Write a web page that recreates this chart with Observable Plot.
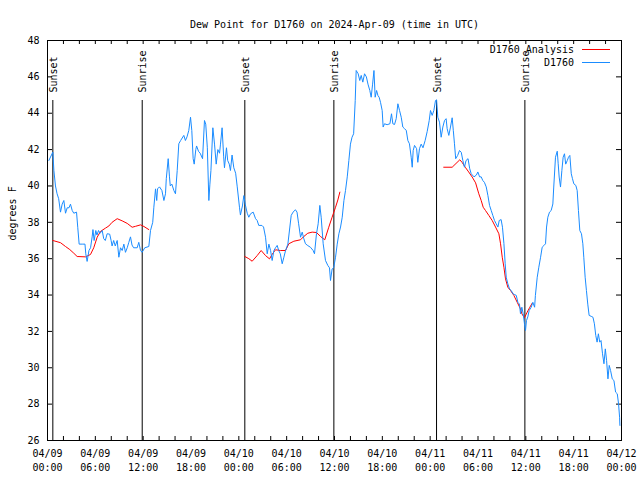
<!DOCTYPE html>
<html><head><meta charset="utf-8">
<script src="https://cdn.jsdelivr.net/npm/d3@7"></script>
<script src="https://cdn.jsdelivr.net/npm/@observablehq/plot@0.6"></script>
<style>
body{margin:0;background:#fff;}
#wrap{position:relative;width:640px;height:480px;font-family:"DejaVu Sans Mono",monospace;font-size:10px;}
.leg{position:absolute;right:66px;height:12px;line-height:12px;white-space:pre;color:#000;}
.sw{position:absolute;left:582px;width:28px;height:0;border-top:1px solid;}
</style></head><body><div id="wrap"></div>
<script>
const title = "Dew Point for D1760 on 2024-Apr-09 (time in UTC)";
const yLabel = "degrees F";
const startUTC = Date.UTC(2024, 3, 9);
const endUTC = Date.UTC(2024, 3, 12);

const xLabelHours = [0, 6, 12, 18, 24, 30, 36, 42, 48, 54, 60, 66, 72];
const xLabels = ["04/09\n00:00","04/09\n06:00","04/09\n12:00","04/09\n18:00",
  "04/10\n00:00","04/10\n06:00","04/10\n12:00","04/10\n18:00",
  "04/11\n00:00","04/11\n06:00","04/11\n12:00","04/11\n18:00","04/12\n00:00"];
const xTickHours = [0,2,4,6,8,10,12,14,16,18,20,22,24,26,28,30,32,34,36,38,40,42,44,46,48,50,52,54,56,58,60,62,64,66,68,70,72];
const yTicks = [26, 28, 30, 32, 34, 36, 38, 40, 42, 44, 46, 48];

const eventNames = ["Sunset", "Sunrise", "Sunset", "Sunrise", "Sunset", "Sunrise"];
const eventHours = [0.67, 11.88, 24.75, 35.92, 48.8, 59.88];

const seriesNames = ["D1760 Analysis", "D1760"];
const seriesColors = ["#ff0000", "#1a8cff"];

// D1760 observations: hours since 04/09 00:00 UTC, dew point °F
const obsHours = [0.17,0.67,0.8,1.0,1.2,1.4,1.63,1.84,2.05,2.26,2.47,2.7,2.88,3.1,3.3,3.64,3.8,3.97,4.35,4.7,4.8,4.97,5.2,5.4,5.6,5.7,5.85,6.06,6.2,6.4,6.6,6.86,7.05,7.25,7.48,7.8,7.98,8.1,8.3,8.5,8.74,8.95,9.16,9.37,9.58,9.78,10.0,10.2,10.41,10.6,10.8,11.25,11.45,11.67,11.87,12.2,12.71,12.92,13.2,13.34,13.55,13.7,13.8,14.05,14.35,14.6,14.8,14.9,15.14,15.3,15.4,15.6,15.85,16.05,16.27,16.47,16.7,17.1,17.3,17.5,17.72,17.94,18.1,18.27,18.4,18.6,18.7,18.95,19.15,19.45,19.69,19.85,20.05,20.24,20.37,20.5,20.74,20.95,21.16,21.37,21.58,21.7,21.9,22.1,22.2,22.45,22.6,22.8,22.95,23.15,23.37,23.6,23.8,24.08,24.2,24.45,24.63,24.8,25.05,25.25,25.47,25.8,26.1,26.3,26.5,26.9,27.1,27.35,27.56,27.77,27.98,28.18,28.4,28.6,28.81,29.0,29.2,29.44,29.65,29.86,30.15,30.4,30.57,30.8,31.1,31.3,31.5,31.74,31.95,32.15,32.36,32.65,32.98,33.32,33.49,33.74,33.95,34.16,34.33,34.58,34.87,35.16,35.37,35.5,35.7,35.9,36.13,36.34,36.55,36.76,36.97,37.18,37.38,37.6,37.8,38.0,38.2,38.4,38.6,38.72,38.97,39.17,39.35,39.55,39.77,40.0,40.2,40.43,40.6,40.78,40.95,41.1,41.28,41.45,41.6,41.77,41.98,42.1,42.27,42.6,42.95,43.15,43.32,43.53,43.74,43.95,44.16,44.37,44.57,44.78,45.0,45.2,45.4,45.62,45.75,45.87,46.04,46.3,46.45,46.66,46.87,47.1,47.37,47.63,47.88,48.04,48.25,48.46,48.67,48.8,48.96,49.17,49.38,49.59,49.8,50.0,50.13,50.34,50.55,50.76,50.9,51.05,51.2,51.45,51.68,51.9,52.1,52.3,52.5,52.75,52.96,53.15,53.5,53.8,53.98,54.2,54.4,54.6,54.8,55.03,55.24,55.45,55.66,55.86,56.07,56.28,56.5,56.66,56.9,57.07,57.25,57.41,57.54,57.74,57.96,58.17,58.38,58.58,58.8,59.0,59.2,59.33,59.5,59.67,59.83,59.96,60.08,60.25,60.42,60.67,60.88,61.1,61.2,61.43,61.63,61.85,62.05,62.26,62.47,62.6,62.76,62.97,63.18,63.39,63.5,63.72,63.94,64.06,64.18,64.35,64.52,64.68,64.85,65.0,65.2,65.35,65.52,65.7,65.85,66.02,66.27,66.44,66.6,66.77,66.98,67.15,67.27,67.44,67.6,67.77,67.94,68.2,68.42,68.6,68.77,68.94,69.1,69.27,69.43,69.62,69.8,69.97,70.13,70.3,70.46,70.63,70.84,71.05,71.26,71.47,71.63,71.76,71.8];
const obsValues = [41.4,41.86,40.85,40.0,39.57,39.3,38.56,39.0,39.2,38.5,38.8,38.8,39.0,38.65,38.5,38.56,37.7,36.8,36.8,36.8,36.27,35.85,36.45,36.6,37.2,37.6,37.0,37.55,37.3,37.55,37.4,37.55,37.1,37.0,37.37,37.35,37.0,36.7,37.0,36.7,37.0,36.08,36.6,36.45,36.8,36.35,36.6,36.9,37.2,36.75,36.6,36.6,36.9,36.45,36.35,36.6,36.67,37.55,38.0,38.83,39.84,39.2,39.84,39.95,39.75,39.2,39.57,40.4,41.5,40.5,40.0,40.1,39.75,39.57,40.85,42.32,42.5,42.78,42.5,42.7,43.05,43.78,43.05,41.5,41.2,42.0,42.2,41.9,41.8,41.5,43.6,43.4,42.1,39.2,40.1,40.85,43.2,42.3,41.2,42.0,41.8,42.3,43.2,41.6,41.0,42.1,41.4,41.2,40.85,41.7,41.0,40.7,39.95,38.83,38.4,38.9,39.47,39.0,38.5,38.28,38.47,38.56,38.2,38.1,37.83,37.83,37.74,37.18,36.27,36.8,36.45,35.9,36.45,36.6,36.73,36.45,36.27,35.72,36.08,36.45,36.8,37.74,38.38,38.56,38.69,38.56,37.92,37.18,37.46,37.1,36.82,36.72,36.63,36.45,36.27,37.37,37.92,38.93,38.28,36.82,35.9,35.63,35.5,34.8,35.43,35.5,36.08,36.8,37.37,37.74,38.28,39.2,39.75,40.5,41.4,42.3,42.68,42.87,44.7,46.35,46.17,45.8,46.08,45.71,46.17,46.0,45.6,45.25,44.88,45.6,46.35,44.88,45.25,44.97,44.88,44.6,44.15,43.24,43.42,43.37,43.42,43.97,43.42,43.38,43.7,44.52,44.15,43.78,43.24,43.15,43.06,42.5,42.32,41.58,41.03,41.95,42.23,42.05,41.3,42.05,42.3,42.1,42.5,43.0,43.6,44.15,43.88,44.15,44.7,44.74,43.78,43.51,42.68,43.24,43.6,43.7,43.15,42.78,43.24,43.75,43.06,42.32,41.5,41.68,41.95,41.85,41.4,41.03,41.4,41.5,40.95,40.67,40.5,40.6,40.77,40.5,40.5,40.3,40.2,39.95,39.48,38.93,38.65,38.38,38.1,37.92,37.74,38.1,38.15,37.73,36.83,35.72,34.98,34.62,34.33,34.25,34.07,34.03,33.98,33.6,33.5,32.97,33.33,32.97,32.42,32.05,32.6,32.8,33.15,33.33,33.6,33.33,33.98,34.98,35.53,36.08,36.63,36.72,36.82,37.74,38.28,38.56,38.65,39.01,39.94,41.58,41.91,41.22,40.49,39.94,40.85,41.58,41.77,41.2,41.4,41.58,41.68,40.67,40.4,40.12,40.03,39.75,38.65,37.55,37.37,36.82,36.08,34.98,34.25,33.5,32.88,32.83,32.78,32.42,31.78,31.41,31.87,31.41,31.5,30.77,30.22,31.04,30.4,29.39,30.13,29.85,29.39,29.3,28.66,28.57,28.02,27.28,26.83];

// D1760 Analysis: three nightly segments (null = gap)
const anaHours = [0.67,1.63,2.26,2.8,3.3,3.72,4.77,5.39,5.8,6.23,6.65,7.27,7.7,8.1,8.74,9.37,10.0,10.62,11.04,11.67,12.1,12.71,
  18.0,
  24.75,25.25,25.67,26.3,26.8,27.35,27.85,28.18,28.6,29.2,29.86,30.27,30.9,31.74,32.15,32.65,33.2,33.74,34.25,34.78,35.28,35.7,36.13,36.42,36.67,
  43.0,
  49.7,50.76,51.72,52.0,52.4,52.83,53.27,53.7,54.1,54.4,54.65,54.94,55.36,55.78,56.2,56.62,56.83,57.04,57.25,57.45,57.74,58.08,58.5,58.92,59.33,59.5,59.83,60.17,60.5,60.8];
const anaValues = [37.0,36.88,36.67,36.5,36.3,36.12,36.1,36.23,36.6,37.18,37.5,37.68,37.8,38.0,38.2,38.08,37.94,37.73,37.78,37.86,37.77,37.6,
  null,
  36.12,36.0,35.86,36.17,36.45,36.17,35.99,36.24,36.49,36.45,36.45,36.82,36.96,37.04,37.22,37.4,37.46,37.44,37.22,37.04,37.73,38.28,38.83,39.23,39.66,
  null,
  41.03,41.03,41.44,41.3,41.03,40.77,40.49,40.17,39.57,39.2,38.83,38.65,38.38,38.1,37.74,37.37,36.82,36.08,35.53,34.89,34.43,34.25,33.98,33.6,33.24,32.97,32.75,33.06,33.33,33.55];

const toDate = h => new Date(startUTC + h * 3600000);
const obs = obsHours.map((h, i) => ({t: toDate(h), v: obsValues[i]}));
const ana = anaHours.map((h, i) => ({t: toDate(h), v: anaValues[i] == null ? NaN : anaValues[i]}));
const events = eventHours.map((h, i) => ({t: toDate(h), name: eventNames[i]}));
const labelMap = new Map(xLabelHours.map((h, i) => [+toDate(h), xLabels[i]]));
const font = "DejaVu Sans Mono";

const chart = Plot.plot({
  width: 640, height: 480,
  marginLeft: 47, marginRight: 19, marginTop: 40, marginBottom: 40,
  style: {fontFamily: font, fontSize: "10px", background: "white", overflow: "visible"},
  x: {type: "utc", domain: [new Date(startUTC), new Date(endUTC)]},
  y: {domain: [26, 48]},
  marks: [
    Plot.ruleX(events, {x: "t", insetTop: 60, stroke: "black", strokeWidth: 1}),
    Plot.text(events, {x: "t", text: "name", frameAnchor: "top", dy: 52, dx: -3, rotate: -90, textAnchor: "start", fontSize: 10, fill: "black"}),
    Plot.ruleX(xTickHours.map(toDate), {x: d => d, insetTop: 396, stroke: "black"}),
    Plot.ruleX(xTickHours.map(toDate), {x: d => d, insetBottom: 396, stroke: "black"}),
    Plot.ruleY(yTicks, {y: d => d, insetRight: 569, stroke: "black"}),
    Plot.ruleY(yTicks, {y: d => d, insetLeft: 569, stroke: "black"}),
    Plot.line(ana, {x: "t", y: "v", stroke: seriesColors[0], strokeWidth: 1}),
    Plot.line(obs, {x: "t", y: "v", stroke: seriesColors[1], strokeWidth: 1}),
    Plot.frame({stroke: "black", strokeWidth: 1}),
    Plot.axisX(xLabelHours.map(toDate), {tickSize: 0, tickPadding: 7, tickFormat: d => labelMap.get(+d), lineHeight: 1.35, fontSize: 10, label: null}),
    Plot.axisY(yTicks, {tickSize: 0, tickPadding: 8, fontSize: 10, label: null}),
    Plot.text([title], {text: d => d, frameAnchor: "top", dy: -20, fontSize: 10, fill: "black"}),
    Plot.text([yLabel], {text: d => d, frameAnchor: "left", dx: -35, rotate: -90, fontSize: 10, fill: "black"})
  ]
});
const wrap = document.getElementById("wrap");
wrap.appendChild(chart);
const legY = [49, 62];
seriesNames.forEach((name, i) => {
  const t = document.createElement("div");
  t.className = "leg"; t.textContent = name; t.style.top = (legY[i] - 5) + "px";
  wrap.appendChild(t);
  const s = document.createElement("div");
  s.className = "sw"; s.style.borderTopColor = seriesColors[i]; s.style.top = legY[i] + "px";
  wrap.appendChild(s);
});
</script></body></html>
